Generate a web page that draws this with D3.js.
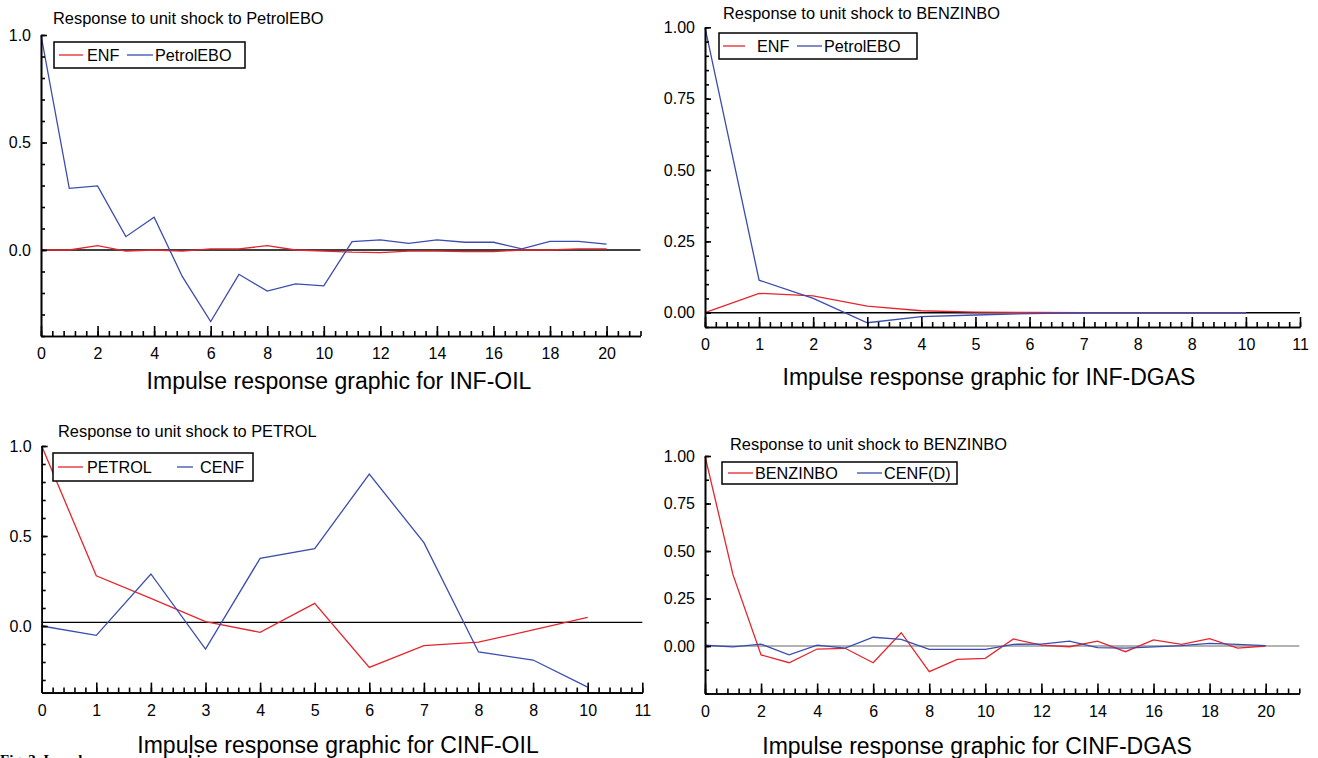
<!DOCTYPE html>
<html>
<head>
<meta charset="utf-8">
<script src="https://cdn.jsdelivr.net/npm/d3@7/dist/d3.min.js"></script>
<style>
	body { margin: 0; background: #fff; }
	svg { display: block; font-family: "Liberation Sans", Arial, sans-serif; }
	.axis path, .axis line { stroke: #000; stroke-width: 1.6; }
	.axis text { font-size: 16px; fill: #000; }
</style>
</head>
<body>
<svg id="chart" width="1318" height="758"></svg>
<script>
// horizons
var stepsLong = [0, 1, 2, 3, 4, 5, 6, 7, 8, 9, 10, 11, 12, 13, 14, 15, 16, 17, 18, 19, 20];
var stepsShort = [0, 1, 2, 3, 4, 5, 6, 7, 8, 9, 10];

// INF-OIL, shock to PetrolEBO
var infOilEnf = [0, 0, 0.02, -0.005, 0, -0.005, 0.005, 0.005, 0.02, 0, -0.005, -0.01, -0.012, -0.005, -0.005, -0.008, -0.008, 0, 0, 0.005, 0.005];
var infOilPetrol = [1.0, 0.287, 0.298, 0.062, 0.152, -0.124, -0.333, -0.113, -0.191, -0.158, -0.167, 0.039, 0.047, 0.031, 0.047, 0.036, 0.036, 0.005, 0.04, 0.04, 0.027];

// INF-DGAS, shock to BENZINBO
var infDgasEnf = [0, 0.068, 0.059, 0.023, 0.007, 0.002, 0.001, 0, 0, 0, 0];
var infDgasPetrol = [1.0, 0.114, 0.05, -0.035, -0.014, -0.008, -0.003, 0, 0, 0, 0];

// CINF-OIL, shock to PETROL
var cinfOilPetrol = [1.0, 0.279, 0.154, 0.024, -0.035, 0.126, -0.23, -0.109, -0.09, -0.022, 0.048];
var cinfOilCenf = [0, -0.052, 0.289, -0.128, 0.376, 0.43, 0.844, 0.463, -0.144, -0.189, -0.34];

// CINF-DGAS, shock to BENZINBO
var cinfDgasBenzin = [1.0, 0.374, -0.047, -0.088, -0.016, -0.012, -0.088, 0.07, -0.135, -0.07, -0.065, 0.037, 0.005, -0.004, 0.026, -0.03, 0.032, 0.009, 0.039, -0.011, 0];
var cinfDgasCenf = [0.004, -0.005, 0.01, -0.046, 0.005, -0.011, 0.046, 0.035, -0.018, -0.018, -0.018, 0.009, 0.01, 0.026, -0.009, -0.011, -0.005, 0.002, 0.014, 0.009, 0.002];

// tick labels
var longXTicks = [0, 2, 4, 6, 8, 10, 12, 14, 16, 18, 20];
var shortXTicks = [0, 1, 2, 3, 4, 5, 6, 7, 8, 9, 10, 11];
var shortXLabels = ["0", "1", "2", "3", "4", "5", "6", "7", "8", "8", "10", "11"];
var yTicksA = [0, 0.5, 1.0];
var yTicksB = [0, 0.25, 0.5, 0.75, 1.0];

var red = "#e4262c", blue = "#3b4cae";

var panels = [
	{
		title: "Response to unit shock to PetrolEBO", xTitle: "Impulse response graphic for INF-OIL",
		steps: stepsLong, series: [infOilEnf, infOilPetrol], names: ["ENF", "PetrolEBO"],
		xDomain: [0, 21.2], yDomain: [-0.4, 1.0], xTicks: longXTicks, xLabels: null, xMinor: 0.4,
		yTicks: yTicksA, yFmt: ".1f", yMinor: 0.1, base: 0, baseColor: "#000",
		left: 41, right: 640.5, top: 35, bottom: 336,
		titleX: 53, titleY: 24, xTitleX: 339, xTitleY: 389,
		legend: { x: 54, y: 42, w: 191, h: 26, items: [[59, 83, 87], [127, 153, 155]] }
	},
	{
		title: "Response to unit shock to BENZINBO", xTitle: "Impulse response graphic for INF-DGAS",
		steps: stepsShort, series: [infDgasEnf, infDgasPetrol], names: ["ENF", "PetrolEBO"],
		xDomain: [0, 11], yDomain: [-0.05, 1.0], xTicks: shortXTicks, xLabels: shortXLabels, xMinor: 0.2,
		yTicks: yTicksB, yFmt: ".2f", yMinor: 0.05, base: 0, baseColor: "#000",
		left: 705, right: 1300, top: 27.3, bottom: 327,
		titleX: 723, titleY: 19, xTitleX: 989, xTitleY: 385,
		legend: { x: 719, y: 33, w: 198, h: 26, items: [[723, 745, 757], [797, 822, 824]] }
	},
	{
		title: "Response to unit shock to PETROL", xTitle: "Impulse response graphic for CINF-OIL",
		steps: stepsShort, series: [cinfOilPetrol, cinfOilCenf], names: ["PETROL", "CENF"],
		xDomain: [0, 11], yDomain: [-0.37, 1.0], xTicks: shortXTicks, xLabels: shortXLabels, xMinor: 0.2,
		yTicks: yTicksA, yFmt: ".1f", yMinor: 0.1, base: 0.02, baseColor: "#000",
		left: 41.7, right: 642.3, top: 446, bottom: 692.6,
		titleX: 58, titleY: 437, xTitleX: 338, xTitleY: 753,
		legend: { x: 53, y: 453, w: 200, h: 28, items: [[58, 83, 87], [177, 193, 200]] }
	},
	{
		title: "Response to unit shock to BENZINBO", xTitle: "Impulse response graphic for CINF-DGAS",
		steps: stepsLong, series: [cinfDgasBenzin, cinfDgasCenf], names: ["BENZINBO", "CENF(D)"],
		xDomain: [0, 21.2], yDomain: [-0.25, 1.0], xTicks: longXTicks, xLabels: null, xMinor: 0.4,
		yTicks: yTicksB, yFmt: ".2f", yMinor: 0.125, base: 0, baseColor: "#999",
		left: 705, right: 1299.3, top: 456, bottom: 693.5,
		titleX: 730, titleY: 450, xTitleX: 977, xTitleY: 754,
		legend: { x: 722, y: 462, w: 235, h: 22, items: [[728, 753, 755], [857, 882, 884]] }
	}
];

var svg = d3.select("#chart");

// caption under the figure, mostly cut off by the page edge
svg.append("text")
	.attr("x", 0)
	.attr("y", 765)
	.style("font-family", "'Liberation Serif', 'Times New Roman', serif")
	.style("font-weight", "bold")
	.style("font-size", "15px")
	.text("Fig. 3. Impulse response graphics");

panels.forEach(function(p) {
	var g = svg.append("g");
	var x = d3.scaleLinear().domain(p.xDomain).range([p.left, p.right]);
	var y = d3.scaleLinear().domain(p.yDomain).range([p.bottom, p.top]);

	var minorX = d3.range(0, p.xDomain[1] + 1e-6, p.xMinor).map(function(v) { return +v.toFixed(3); });
	var minorY = d3.range(p.yDomain[1], p.yDomain[0] - 1e-6, -p.yMinor).map(function(v) { return +v.toFixed(3); });

	// reference line
	g.append("line")
		.attr("x1", x(0)).attr("x2", x(p.xDomain[1]))
		.attr("y1", y(p.base)).attr("y2", y(p.base))
		.attr("stroke", p.baseColor)
		.attr("stroke-width", 1.4);

	// series
	var line = d3.line()
		.x(function(d, i) { return x(p.steps[i]); })
		.y(function(d) { return y(d); });
	[red, blue].forEach(function(c, k) {
		g.append("path")
			.datum(p.series[k])
			.attr("d", line)
			.attr("fill", "none")
			.attr("stroke", c)
			.attr("stroke-width", 1.3);
	});

	// x axis
	g.append("g").attr("class", "axis")
		.attr("transform", "translate(0," + p.bottom + ")")
		.call(d3.axisBottom(x).tickValues(minorX).tickSizeInner(-5).tickSizeOuter(0).tickFormat(""));
	g.append("g").attr("class", "axis")
		.attr("transform", "translate(0," + p.bottom + ")")
		.call(d3.axisBottom(x).tickValues(p.xTicks).tickSizeInner(-10).tickSizeOuter(0).tickPadding(12)
			.tickFormat(function(d, i) { return p.xLabels ? p.xLabels[i] : d; }));

	// y axis
	g.append("g").attr("class", "axis")
		.attr("transform", "translate(" + p.left + ",0)")
		.call(d3.axisLeft(y).tickValues(minorY).tickSizeInner(-4).tickSizeOuter(0).tickFormat(""));
	g.append("g").attr("class", "axis")
		.attr("transform", "translate(" + p.left + ",0)")
		.call(d3.axisLeft(y).tickValues(p.yTicks).tickSizeInner(-6).tickSizeOuter(0).tickPadding(10)
			.tickFormat(d3.format(p.yFmt)));

	// titles
	g.append("text")
		.attr("x", p.titleX).attr("y", p.titleY)
		.style("font-size", "16.4px")
		.text(p.title);
	g.append("text")
		.attr("x", p.xTitleX).attr("y", p.xTitleY)
		.attr("text-anchor", "middle")
		.style("font-size", "23px")
		.text(p.xTitle);

	// legend
	var L = p.legend;
	g.append("rect")
		.attr("x", L.x).attr("y", L.y)
		.attr("width", L.w).attr("height", L.h)
		.attr("fill", "#fff")
		.attr("stroke", "#000")
		.attr("stroke-width", 1.5);
	L.items.forEach(function(it, k) {
		var cy = L.y + L.h / 2;
		g.append("line")
			.attr("x1", it[0]).attr("x2", it[1])
			.attr("y1", cy).attr("y2", cy)
			.attr("stroke", k === 0 ? red : blue)
			.attr("stroke-width", 1.3);
		g.append("text")
			.attr("x", it[2]).attr("y", cy + 5.8)
			.style("font-size", "16.2px")
			.text(p.names[k]);
	});
});
</script>
</body>
</html>
